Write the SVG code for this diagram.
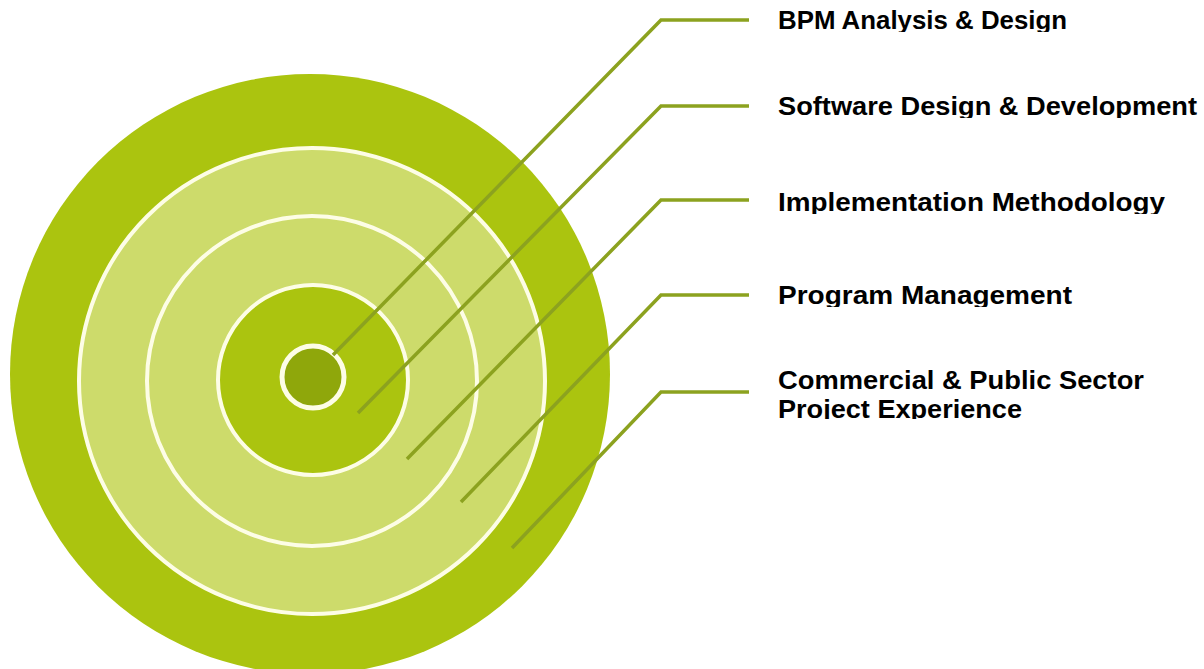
<svg xmlns="http://www.w3.org/2000/svg" width="1204" height="669" viewBox="0 0 1204 669">
  <style>
    .ring { fill: none; stroke: #fdfde6; stroke-width: 4; }
    .conn { fill: none; stroke: #8ca21f; stroke-width: 3.5; stroke-linejoin: miter; }
    .lbl { font-family: "Liberation Sans", Arial, sans-serif; font-weight: bold; font-size: 25px; fill: #000; }
  </style>
  <defs>
    <clipPath id="c1"><rect x="770" y="0" width="434" height="32"/></clipPath>
    <clipPath id="c2"><rect x="770" y="80" width="434" height="38"/></clipPath>
    <clipPath id="c3"><rect x="770" y="180" width="434" height="34"/></clipPath>
    <clipPath id="c4"><rect x="770" y="270" width="434" height="37"/></clipPath>
    <clipPath id="c5"><rect x="770" y="360" width="434" height="59"/></clipPath>
  </defs>
  <rect width="1204" height="669" fill="#ffffff"/>
  <g id="target">
    <circle cx="310" cy="374" r="300" fill="#abc40f"/>
    <circle cx="312" cy="381" r="233" fill="#cddb6b"/>
    <circle cx="312" cy="381" r="233" class="ring"/>
    <circle cx="312" cy="381" r="165" class="ring"/>
    <circle cx="313" cy="380" r="95" fill="#abc40f"/>
    <circle cx="313" cy="380" r="95" class="ring"/>
    <circle cx="313" cy="377" r="31" fill="#8fa70b" stroke="#fdfde6" stroke-width="5"/>
  </g>
  <g id="connectors">
    <polyline class="conn" points="333,355 661,20 749,20"/>
    <polyline class="conn" points="358,413 661,106 749,106"/>
    <polyline class="conn" points="407,459 661,200 749,200"/>
    <polyline class="conn" points="461,502 661,295 749,295"/>
    <polyline class="conn" points="512,548 661,392 749,392"/>
  </g>
  <g id="label-bpm" clip-path="url(#c1)">
    <text class="lbl" x="778" y="29" textLength="289" lengthAdjust="spacingAndGlyphs">BPM Analysis &amp; Design</text>
  </g>
  <g id="label-software" clip-path="url(#c2)">
    <text class="lbl" x="778" y="115" textLength="419" lengthAdjust="spacingAndGlyphs">Software Design &amp; Development</text>
  </g>
  <g id="label-implementation" clip-path="url(#c3)">
    <text class="lbl" x="778" y="211" textLength="387" lengthAdjust="spacingAndGlyphs">Implementation Methodology</text>
  </g>
  <g id="label-program" clip-path="url(#c4)">
    <text class="lbl" x="778" y="304" textLength="294" lengthAdjust="spacingAndGlyphs">Program Management</text>
  </g>
  <g id="label-commercial" clip-path="url(#c5)">
    <text class="lbl" x="778" y="389" textLength="366" lengthAdjust="spacingAndGlyphs">Commercial &amp; Public Sector</text>
    <text class="lbl" x="778" y="418" textLength="244" lengthAdjust="spacingAndGlyphs">Project Experience</text>
  </g>
</svg>
